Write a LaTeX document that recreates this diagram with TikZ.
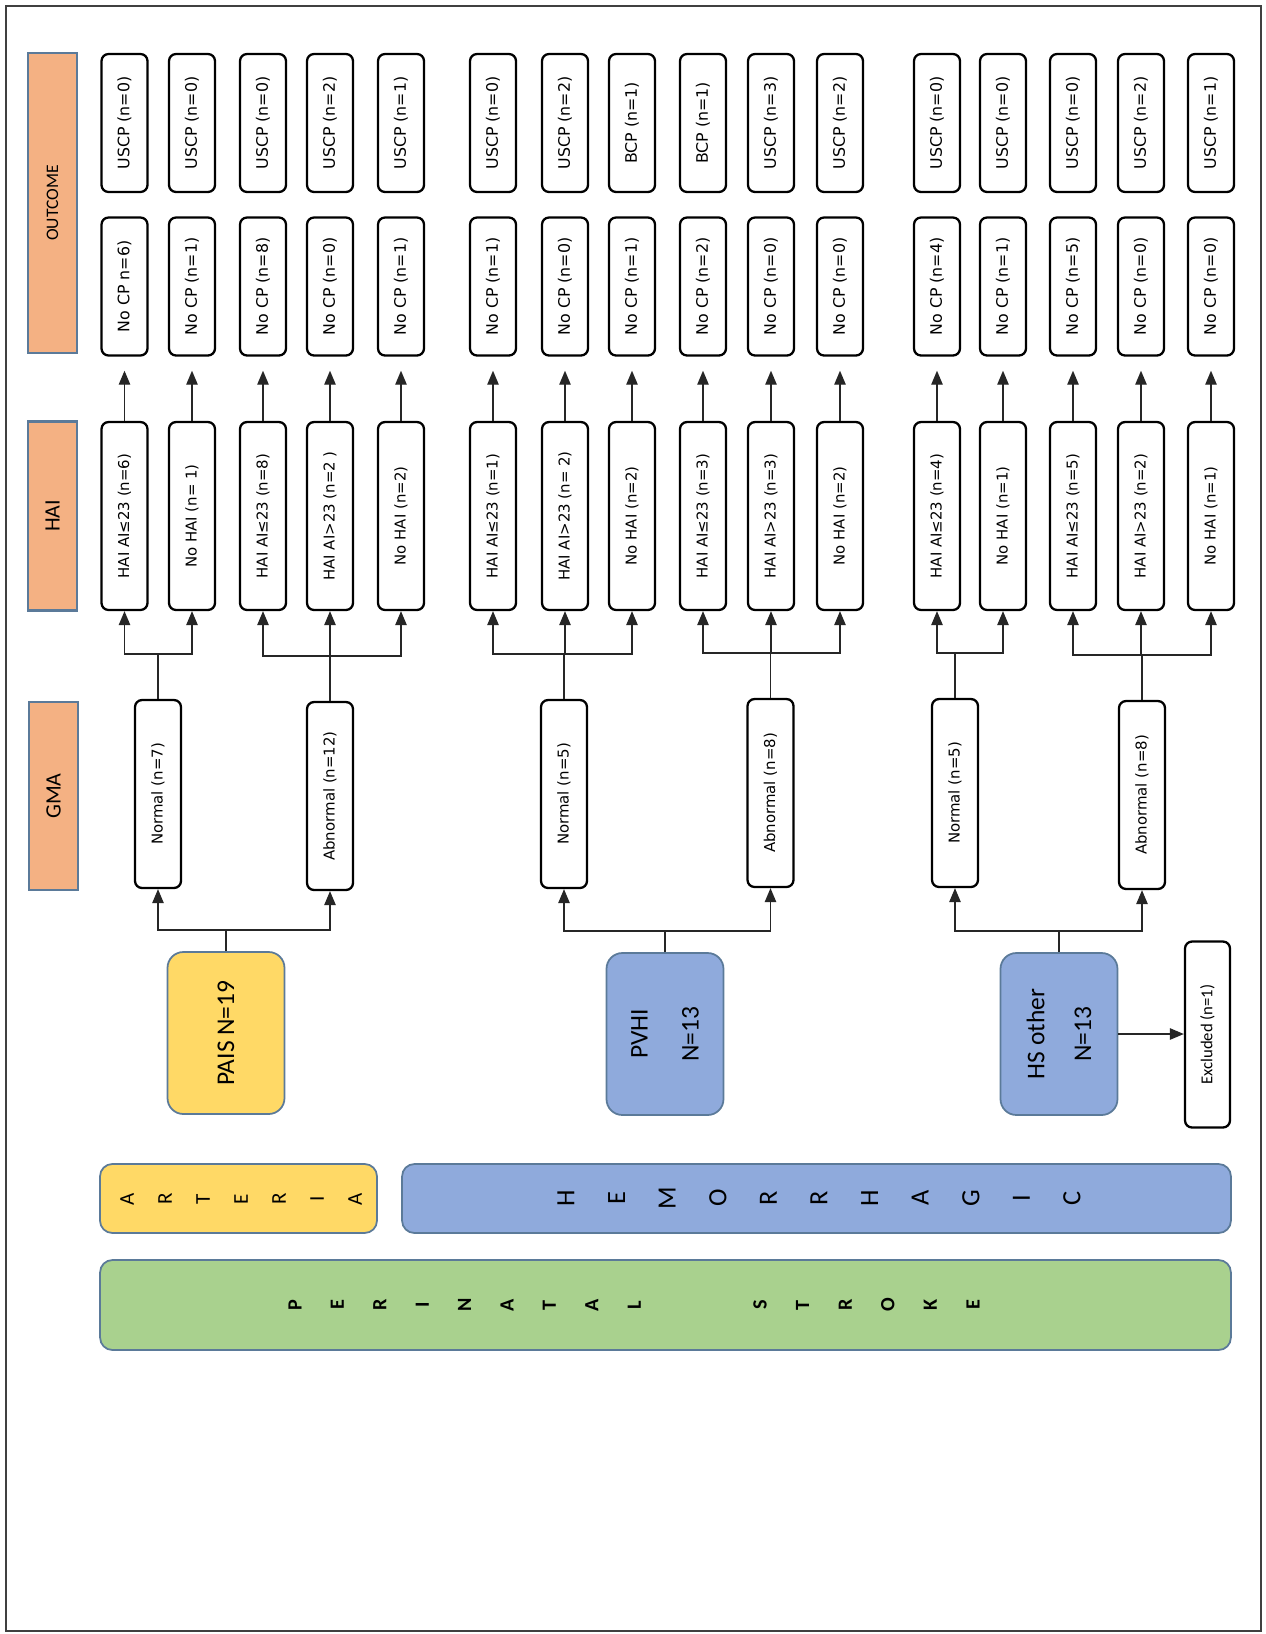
\documentclass[tikz,border=0pt]{standalone}
\usepackage{fontspec}
\setmainfont{DejaVu Sans}
\newfontfamily\calfont{Carlito}
\usetikzlibrary{arrows.meta}
\definecolor{hdrfill}{HTML}{F4B183}
\definecolor{edgeblue}{HTML}{5B7A99}
\definecolor{artfill}{HTML}{FFD966}
\definecolor{hemfill}{HTML}{8FAADC}
\definecolor{perifill}{HTML}{A9D18E}
\tikzset{
    smallbox/.style={draw=black, line width=1.3pt, rounded corners=4pt, fill=white,
        rotate=90, minimum height=0.92cm, inner sep=1pt,
        font=\fontsize{9}{10}\selectfont},
    outbox/.style={smallbox, minimum width=2.76cm},
    longbox/.style={smallbox, minimum width=3.76cm, font=\fontsize{8.5}{10}\selectfont},
    header/.style={draw=edgeblue, line width=1.2pt, fill=hdrfill, rotate=90,
        minimum height=0.97cm, font=\calfont\fontsize{12.5}{14}\selectfont},
    groupbox/.style={draw=edgeblue, line width=1pt, rounded corners=9pt, rotate=90,
        minimum width=3.24cm, minimum height=2.34cm, align=center,
        font=\calfont\fontsize{14.5}{17}\selectfont},
    banner/.style={draw=edgeblue, line width=1pt, rounded corners=7pt},
    letter/.style={rotate=90, inner sep=0pt},
    link/.style={draw=black!85, line width=0.85pt},
    arr/.style={link, -{Triangle[length=8pt,width=6.5pt]}},
}
\begin{document}
\begin{tikzpicture}[x=0.02cm, y=-0.02cm]
    \fill[white] (0,0) rectangle (1266,1634);
    \draw[line width=1.2pt, black!75] (6,6) rectangle (1261,1631);

    % column headers
    \node[header, minimum width=6cm, font=\calfont\fontsize{10}{11}\selectfont] (hout) at (52.5,203) {OUTCOME};
    \node[header, minimum width=3.78cm] (hhai) at (52.5,516) {HAI};
    \node[header, minimum width=3.76cm] (hgma) at (53.5,796) {GMA};

    % outcome and HAI rows
    \foreach \x/\oa/\ob/\hai [count=\i] in {
        124.5/USCP (n=0)/No CP n=6)/HAI AI≤23 (n=6),
        192/USCP (n=0)/No CP (n=1)/No HAI (n= 1),
        263/USCP (n=0)/No CP (n=8)/HAI AI≤23 (n=8),
        330/USCP (n=2)/No CP (n=0)/HAI AI>23 (n=2 ),
        401/USCP (n=1)/No CP (n=1)/No HAI (n=2),
        493/USCP (n=0)/No CP (n=1)/HAI AI≤23 (n=1),
        565/USCP (n=2)/No CP (n=0)/HAI AI>23 (n= 2),
        632/BCP (n=1)/No CP (n=1)/No HAI (n=2),
        703/BCP (n=1)/No CP (n=2)/HAI AI≤23 (n=3),
        771/USCP (n=3)/No CP (n=0)/HAI AI>23 (n=3),
        840/USCP (n=2)/No CP (n=0)/No HAI (n=2),
        937/USCP (n=0)/No CP (n=4)/HAI AI≤23 (n=4),
        1003/USCP (n=0)/No CP (n=1)/No HAI (n=1),
        1073/USCP (n=0)/No CP (n=5)/HAI AI≤23 (n=5),
        1141/USCP (n=2)/No CP (n=0)/HAI AI>23 (n=2),
        1211/USCP (n=1)/No CP (n=0)/No HAI (n=1)}{
        \node[outbox] (oa\i) at (\x,123) {\oa};
        \node[outbox] (ob\i) at (\x,286.5) {\ob};
        \node[longbox] (hai\i) at (\x,516) {\hai};
        \draw[arr, shorten >=8pt] (hai\i.east) -- (ob\i.west);
    }

    % GMA
    \node[longbox] (gma1) at (158,794) {Normal (n=7)};
    \node[longbox] (gma2) at (330,796) {Abnormal (n=12)};
    \node[longbox] (gma3) at (564,794) {Normal (n=5)};
    \node[longbox] (gma4) at (770.5,793) {Abnormal (n=8)};
    \node[longbox] (gma5) at (955,793) {Normal (n=5)};
    \node[longbox] (gma6) at (1142,795) {Abnormal (n=8)};

    \foreach \g/\a/\b in {1/1/2, 2/3/5, 3/6/8, 4/9/11, 5/12/13, 6/14/16}{
        \foreach \h in {\a,...,\b}
            \draw[arr] (gma\g.east) -- ++(0,-45) -| (hai\h.west);
    }

    % stroke groups
    \node[groupbox, fill=artfill] (pais) at (226,1033) {PAIS N=19};
    \node[groupbox, fill=hemfill] (pvhi) at (665,1034) {PVHI\\[12pt]N=13};
    \node[groupbox, fill=hemfill] (hs) at (1059,1034) {HS other\\[9.5pt]N=13};
    \node[smallbox, minimum width=3.72cm, minimum height=0.9cm,
        font=\calfont\fontsize{9.5}{11}\selectfont] (excl) at (1207.5,1034.5) {Excluded (n=1)};
    \draw[arr] (hs.south) -- (hs.south -| excl.north);

    \foreach \s/\a/\b in {pais/1/2, pvhi/3/4, hs/5/6}{
        \foreach \h in {\a,...,\b}
            \draw[arr] (\s.east) -- ++(0,-21) -| (gma\h.west);
    }

    % banners
    \node[banner, fill=artfill, minimum width=5.54cm, minimum height=1.38cm] (art) at (238.5,1198.5) {};
    \node[banner, fill=hemfill, minimum width=16.58cm, minimum height=1.38cm] (hem) at (816.5,1198.5) {};
    \node[banner, fill=perifill, minimum width=22.62cm, minimum height=1.8cm] (peri) at (665.5,1305) {};

    \foreach \ch [count=\i from 0] in {A,R,T,E,R,I,A}
        \node[letter, font=\calfont\fontsize{12}{14}\selectfont] (art\i) at ({127+38*\i},1199) {\ch};
    \foreach \ch [count=\i from 0] in {H,E,M,O,R,R,H,A,G,I,C}
        \node[letter, font=\calfont\fontsize{15}{17}\selectfont] (hem\i) at ({566+50.6*\i},1198) {\ch};
    \foreach \ch [count=\i from 0] in {P,E,R,I,N,A,T,A,L}
        \node[letter, font=\calfont\bfseries\fontsize{11.5}{13}\selectfont] (pa\i) at ({295+42.4*\i},1305) {\ch};
    \foreach \ch [count=\i from 0] in {S,T,R,O,K,E}
        \node[letter, font=\calfont\bfseries\fontsize{11.5}{13}\selectfont] (st\i) at ({760+42.6*\i},1305) {\ch};
\end{tikzpicture}
\end{document}
